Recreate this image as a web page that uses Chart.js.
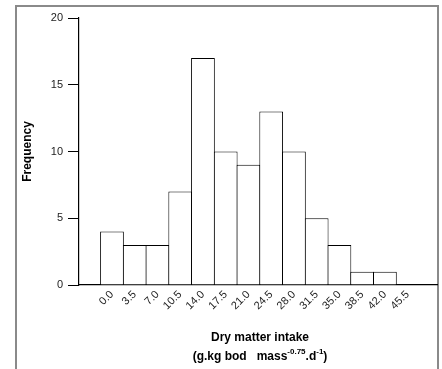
<!DOCTYPE html>
<html lang="en">
<head>
    <meta charset="UTF-8">
    <title>Dry matter intake histogram</title>
    <script src="https://cdn.jsdelivr.net/npm/chart.js"></script>
    <style>
        html, body { margin: 0; padding: 0; background: #fff; overflow: hidden; }
        #frame {
            position: absolute; left: 15px; top: 5px; width: 420px; height: 400px;
            border-left: 2px solid #8a8a8a; border-top: 2px solid #8a8a8a; border-right: 2px solid #8a8a8a;
        }
        #wrap { position: absolute; left: 0; top: 0; width: 442px; height: 369px; }
    </style>
</head>
<body>
<div id="frame"></div>
<div id="wrap"><canvas id="histChart" width="442" height="369"></canvas></div>

<script>
// bin start values (g.kg body mass^-0.75.d^-1)
const binLabels = ["0.0", "3.5", "7.0", "10.5", "14.0", "17.5", "21.0", "24.5",
                   "28.0", "31.5", "35.0", "38.5", "42.0", "45.5"];
const frequency = [4, 3, 3, 7, 17, 10, 9, 13, 10, 5, 3, 1, 1, 0];
const yTicks = [0, 5, 10, 15, 20];

const FONT = "Arial, 'Liberation Sans', Helvetica, sans-serif";

// two-line x title with superscripts
const xTitlePlugin = {
    id: "xTitle",
    afterDraw(chart) {
        const ctx = chart.ctx;
        const cx = (chart.chartArea.left + chart.chartArea.right) / 2 + 2;
        ctx.save();
        ctx.fillStyle = "#000";
        ctx.textBaseline = "middle";
        ctx.textAlign = "center";
        ctx.font = "bold 12px " + FONT;
        ctx.fillText("Dry matter intake", cx, 338);

        const parts = [
            { t: "(g.kg bod   mass", sup: false },
            { t: "-0.75", sup: true },
            { t: ".d", sup: false },
            { t: "-1", sup: true },
            { t: ")", sup: false }
        ];
        const big = "bold 12px " + FONT, small = "bold 8px " + FONT;
        let total = 0;
        parts.forEach(p => { ctx.font = p.sup ? small : big; total += ctx.measureText(p.t).width; });
        let x = cx - total / 2;
        ctx.textAlign = "left";
        parts.forEach(p => {
            ctx.font = p.sup ? small : big;
            ctx.fillText(p.t, x, p.sup ? 352 : 357);
            x += ctx.measureText(p.t).width;
        });
        ctx.restore();
    }
};

const ctx = document.getElementById("histChart").getContext("2d");

new Chart(ctx, {
    type: "bar",
    data: {
        datasets: [{
            data: frequency.map((v, i) => ({ x: i, y: v })),
            backgroundColor: "#ffffff",
            borderColor: "#000000",
            borderWidth: 1,
            barPercentage: 1.044,
            categoryPercentage: 1.0
        }]
    },
    options: {
        responsive: false,
        animation: false,
        events: [],
        layout: { padding: { top: 18, right: 5, left: 0, bottom: 0 } },
        plugins: {
            legend: { display: false },
            tooltip: { enabled: false }
        },
        scales: {
            x: {
                type: "linear",
                min: -1.45,
                max: 14.29,
                offset: false,
                grid: { display: false, drawTicks: false },
                border: { display: true, color: "#000", width: 1.2 },
                afterBuildTicks: axis => { axis.ticks = binLabels.map((l, i) => ({ value: i })); },
                afterFit: axis => { axis.height = 84; },
                ticks: {
                    autoSkip: false,
                    minRotation: 45,
                    maxRotation: 45,
                    padding: 3,
                    color: "#222",
                    font: { family: FONT, size: 11 },
                    callback: (v) => binLabels[v] !== undefined ? binLabels[v] : ""
                }
            },
            y: {
                min: 0,
                max: 20,
                afterBuildTicks: axis => { axis.ticks = yTicks.map(v => ({ value: v })); },
                afterFit: axis => { axis.width = 79; },
                grid: { drawOnChartArea: false, drawTicks: true, tickLength: 11, color: "#000" },
                border: { display: true, color: "#000", width: 1.2 },
                ticks: {
                    padding: 5,
                    color: "#222",
                    font: { family: FONT, size: 11 }
                },
                title: {
                    display: true,
                    text: "Frequency",
                    color: "#000",
                    font: { family: FONT, size: 12, weight: "bold" },
                    padding: { top: 20, bottom: 0 }
                }
            }
        }
    },
    plugins: [xTitlePlugin]
});
</script>
</body>
</html>
